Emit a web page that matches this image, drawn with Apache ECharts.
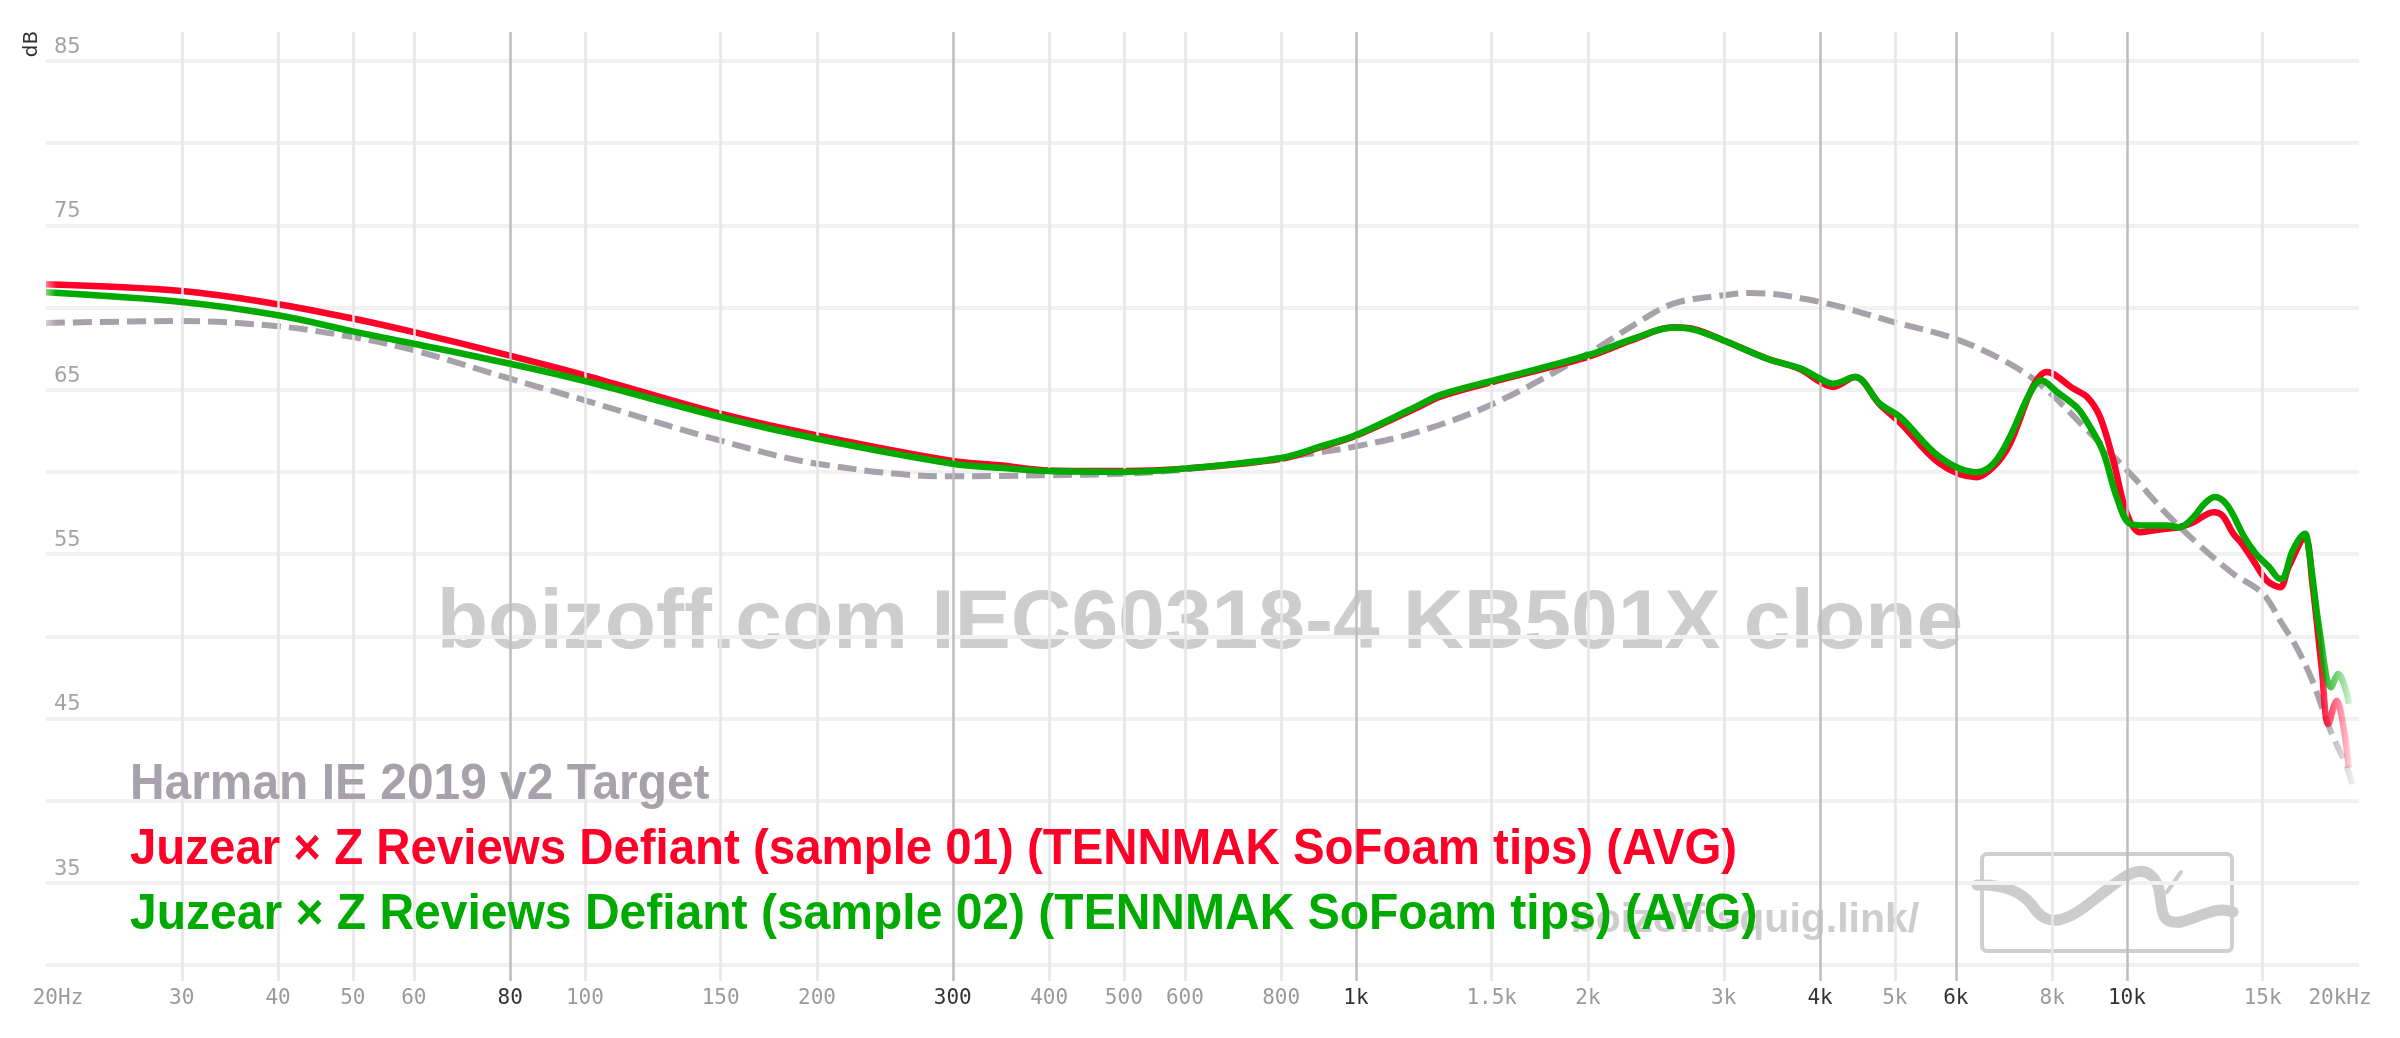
<!DOCTYPE html>
<html><head><meta charset="utf-8">
<script src="https://cdn.jsdelivr.net/npm/echarts@6/dist/echarts.min.js"></script>
<style>html,body{margin:0;padding:0;background:#fff}#c{width:2400px;height:1038px}</style>
</head><body><div id="c"></div>
<script>
// ---- data ----
const FREQ_TICKS  = [20,30,40,50,60,80,100,150,200,300,400,500,600,800,1000,1500,2000,3000,4000,5000,6000,8000,10000,15000,20000];
const FREQ_LABELS = ['20Hz','30','40','50','60','80','100','150','200','300','400','500','600','800','1k','1.5k','2k','3k','4k','5k','6k','8k','10k','15k','20kHz'];
const MAJOR_TICKS = [80,300,1000,4000,6000,10000];

const SERIES_NAMES = ['Harman IE 2019 v2 Target',
  'Juzear × Z Reviews Defiant (sample 01) (TENNMAK SoFoam tips) (AVG)',
  'Juzear × Z Reviews Defiant (sample 02) (TENNMAK SoFoam tips) (AVG)'];

const targetFreq = [20,30,40,50,60,80,100,150,200,300,345,400,500,600,800,900,1000,1200,1500,2000,2290,2580,3000,3250,4000,5000,5900,6840,7700,8900,10200,11260,12500,13740,15000,15900,16600,17400,18300,19300,19600];
const targetDb   = [69.06,69.18,68.86,68.2,67.4,65.67,64.35,61.9,60.5,59.73,59.75,59.8,59.89,60.15,60.86,61.2,61.55,62.42,64.1,67.2,68.92,70.24,70.75,70.89,70.34,69.1,68.2,66.9,65.37,62.5,59.68,57.45,55.42,53.8,52.6,50.75,49.33,47.3,44.46,42.0,41.0];

const redFreq = [20,30,40,50,60,78,100,150,200,300,345,400,500,600,800,900,1000,1200,1290,1540,2000,2290,2580,2740,3000,3410,3770,4000,4160,4440,4780,5080,5720,6380,6710,7050,7550,7870,8520,8880,9230,9600,10000,10400,10800,11260,11700,12200,12950,13300,13740,14100,14590,15180,15800,16200,17020,17400,17890,18250,18710,19100,19400];
const redDb   = [71.42,71.01,70.2,69.33,68.5,67.2,65.88,63.54,62.22,60.66,60.4,60.09,60.05,60.2,60.8,61.5,62.2,63.9,64.6,65.6,67.0,68.05,68.8,68.7,68.0,66.9,66.25,65.47,65.17,65.77,64.1,63.0,60.5,59.68,60.3,61.7,65.17,66.08,65.07,64.56,63.34,60.7,57.45,56.33,56.44,56.54,56.64,56.94,57.55,57.35,56.24,55.63,54.6,53.4,52.98,54.2,56.03,53.2,48.1,44.66,46.08,44.46,42.0];

const greenFreq = [20,30,40,50,60,78,100,150,200,300,345,400,500,600,800,900,1000,1200,1290,1540,2000,2290,2580,2740,3000,3410,3770,4000,4160,4440,4780,5080,5720,6380,6710,7050,7480,7740,8120,8600,8800,9300,9700,10100,10600,11260,11700,12200,12600,13000,13500,14200,14700,15300,15800,16000,16400,17020,17200,17800,18400,18800,19300,19400];
const greenDb   = [70.93,70.34,69.53,68.55,67.8,66.69,65.53,63.34,62.02,60.5,60.25,60.05,60.0,60.2,60.85,61.55,62.25,64.0,64.7,65.67,67.1,68.11,68.78,68.66,68.0,66.9,66.3,65.67,65.37,65.77,64.15,63.34,60.9,59.98,60.5,62.12,64.76,65.57,64.86,63.95,63.34,61.3,58.47,56.84,56.74,56.74,56.64,57.25,58.06,58.47,57.96,56.03,55.02,54.2,53.5,53.6,55.2,56.24,55.42,50.15,46.9,47.7,46.5,45.9];

const WATERMARK = 'boizoff.com IEC60318-4 KB501X clone';
const SITE = 'boizoff.squig.link/';

// ---- chart ----
const chart = echarts.init(document.getElementById('c'), null, {renderer: 'canvas'});
const pairs = (fs, vs) => fs.map((f, i) => [f, vs[i]]);
const fade = (r, g, b) => new echarts.graphic.LinearGradient(0, 0, 1, 0, [
  {offset: 0, color: `rgba(${r},${g},${b},0.35)`},
  {offset: 0.006, color: `rgba(${r},${g},${b},1)`},
  {offset: 0.985, color: `rgba(${r},${g},${b},1)`},
  {offset: 1, color: `rgba(${r},${g},${b},0.15)`}
]);
const MONO = '"DejaVu Sans Mono", monospace';
const LEG_FONT = 'bold 50px "Liberation Sans", Arial, sans-serif';

const vLines = FREQ_TICKS.map((f, i) => {
  const major = MAJOR_TICKS.includes(f);
  const edge = (i === 0 || i === FREQ_TICKS.length - 1);
  return {
    xAxis: f,
    lineStyle: {color: edge ? 'rgba(0,0,0,0)' : (major ? '#bdbdbd' : '#e6e6e6'), width: 2.5, type: 'solid'},
    label: {
      show: true, position: 'start', distance: 7, formatter: FREQ_LABELS[i],
      color: major ? '#333' : '#9a9a9a', fontFamily: MONO, fontSize: 21,
      padding: i === 0 ? [0, 0, 0, 24] : (i === FREQ_TICKS.length - 1 ? [0, 38, 0, 0] : 0)
    }
  };
});

const logoStroke = {fill: 'none', stroke: '#cccccc', lineWidth: 11, lineCap: 'round'};
const bz = (a) => ({type: 'bezierCurve', z: 0,
  shape: {x1: a[0], y1: a[1], cpx1: a[2], cpy1: a[3], cpx2: a[4], cpy2: a[5], x2: a[6], y2: a[7]},
  style: logoStroke});
const legend = (i, y, color, sx) => ({type: 'text', z: 100, x: 130, y: y, scaleX: sx, scaleY: 1,
  style: {text: SERIES_NAMES[i], fill: color, verticalAlign: 'middle', font: LEG_FONT}});

const L = 46, R = 41;
const option = {
  animation: false,
  backgroundColor: '#fff',
  grid: [
    {left: L, right: R, top: 32, bottom: 57},
    {left: L, right: R, top: 61, bottom: 73}
  ],
  xAxis: [
    {gridIndex: 0, type: 'log', logBase: 10, min: 20, max: 20000,
     axisLine: {show: false}, axisTick: {show: false}, axisLabel: {show: false}, splitLine: {show: false}},
    {gridIndex: 1, type: 'log', logBase: 10, min: 20, max: 20000,
     axisLine: {show: false}, axisTick: {show: false}, axisLabel: {show: false}, splitLine: {show: false}}
  ],
  yAxis: [
    {gridIndex: 0, type: 'value', min: 0, max: 1, show: false},
    {gridIndex: 1, type: 'value', min: 30, max: 85, interval: 5,
     axisLine: {show: false}, axisTick: {show: false},
     splitLine: {show: true, lineStyle: {color: '#f1f1f1', width: 4}},
     axisLabel: {inside: true, margin: 8, verticalAlign: 'bottom', padding: [0, 0, 3, 0],
       color: '#a3a3a3', fontFamily: '"DejaVu Sans", sans-serif', fontSize: 21,
       formatter: v => (v % 10 === 5 ? String(v) : '')}}
  ],
  graphic: [
    {type: 'text', z: 0, x: 1200, y: 625,
     style: {text: WATERMARK, fill: '#cdcdcd', align: 'center', verticalAlign: 'middle', font: 'bold 84px "Liberation Sans", Arial, sans-serif'}},
    {type: 'text', z: 0, x: 1745, y: 921,
     style: {text: SITE, fill: '#cdcdcd', align: 'center', verticalAlign: 'middle', font: 'bold 41px "Liberation Sans", Arial, sans-serif'}},
    {type: 'rect', z: 0, shape: {x: 1982, y: 854, width: 250, height: 97, r: 5},
     style: {fill: 'none', stroke: '#cfcfcf', lineWidth: 4}},
    bz([1977,885, 2000,884, 2020,890, 2032,905]),
    bz([2032,905, 2040,918, 2048,921, 2058,920]),
    bz([2058,920, 2080,917, 2105,887, 2130,874]),
    bz([2130,874, 2148,866, 2158,878, 2160,895]),
    bz([2160,895, 2162,915, 2163,924, 2180,922]),
    bz([2180,922, 2200,918, 2215,905, 2233,912]),
    {type: 'line', z: 0, shape: {x1: 2167, y1: 892, x2: 2181, y2: 872},
     style: {stroke: '#cccccc', lineWidth: 4, lineCap: 'round'}},
    {type: 'text', z: 0, x: 32, y: 44, rotation: Math.PI / 2,
     style: {text: 'dB', fill: '#333', align: 'center', verticalAlign: 'middle', font: '20px "DejaVu Sans", sans-serif'}},
    legend(0, 785, '#a7a1ab', 0.958),
    legend(1, 850, '#ff0028', 0.948),
    legend(2, 915, '#00aa00', 0.96)
  ],
  series: [
    {type: 'line', xAxisIndex: 0, yAxisIndex: 0, data: [], silent: true,
     markLine: {silent: true, symbol: 'none', animation: false, data: vLines}},
    {name: SERIES_NAMES[0], type: 'line', xAxisIndex: 1, yAxisIndex: 1, data: pairs(targetFreq, targetDb),
     showSymbol: false, smooth: 0.35, z: 3,
     lineStyle: {color: fade(167, 161, 171), width: 6, type: [19, 8]}},
    {name: SERIES_NAMES[1], type: 'line', xAxisIndex: 1, yAxisIndex: 1, data: pairs(redFreq, redDb),
     showSymbol: false, smooth: 0.35, z: 4,
     lineStyle: {color: fade(255, 0, 40), width: 6.5}},
    {name: SERIES_NAMES[2], type: 'line', xAxisIndex: 1, yAxisIndex: 1, data: pairs(greenFreq, greenDb),
     showSymbol: false, smooth: 0.35, z: 5,
     lineStyle: {color: fade(0, 170, 0), width: 6.5}}
  ]
};
chart.setOption(option);
</script></body></html>
